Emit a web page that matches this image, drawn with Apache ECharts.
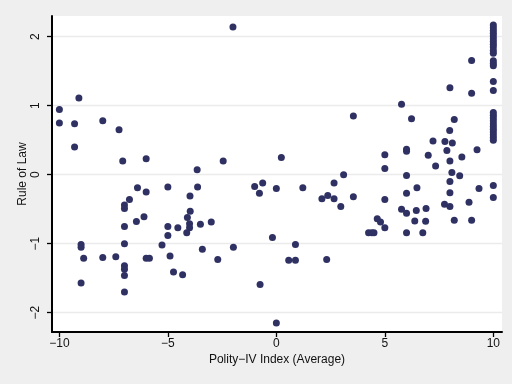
<!DOCTYPE html>
<html>
<head>
<meta charset="utf-8">
<script src="https://cdn.jsdelivr.net/npm/echarts@6/dist/echarts.min.js"></script>
<style>
html,body{margin:0;padding:0;background:#efefef;}
#c{width:512px;height:384px;}
</style>
</head>
<body>
<div id="c"></div>
<script>
const polityX = [
 -10,-10,-9.3,-9.3,-9.1,-8,-7.25,-7.08,-6.0,
 -9,-9,-8.88,-9,-8,-7.4,
 -7,-7,-7,-7,-7,-7,-7,-7,
 -6.77,-6.4,-6.45,-6.1,-6,-6,-5.85,
 -5,-5,-5,-5.27,-4.9,-4.74,-4.54,-4.32,
 -3.65,-3.63,-3.98,-3.97,-4.1,-4,-4,-4.13,
 -3.5,-3.41,-3.0,-2.7,-2.45,-2,-1.98,
 -1.0,-0.78,-0.63,-0.75,-0.18,0,0.23,0,
 0.57,0.88,0.88,1.22,
 2.1,2.37,2.66,2.32,2.66,3.1,2.97,3.55,3.55,
 4.25,4.4,4.5,4.65,4.8,
 5,5,5,5,
 5.77,5.77,6,6,6,6,6,6,
 6.23,6.48,6.45,6.38,6.75,6.9,6.88,
 7,7.22,7.34,7.77,7.86,7.75,
 8,7.99,8.11,8,8,8,8,8.09,8.2,8.2,8.45,8.55,8.88,9,9,9,9.25,9.34,
 10,10,10,10,10,10,10,10,10,10,10,10,10,10,10,10,
 10,10,10,10,10,10,10,10,10,10,10,10,10
];
const ruleY = [
 0.945,0.75,0.74,0.40,1.11,0.78,0.65,0.20,0.23,
 -1.01,-1.05,-1.21,-1.57,-1.20,-1.19,
 -0.44,-0.49,-0.75,-1.0,-1.32,-1.37,-1.46,-1.70,
 -0.36,-0.19,-0.68,-0.61,-0.25,-1.21,-1.21,
 -0.18,-0.75,-0.88,-1.02,-1.18,-1.41,-0.77,-1.45,
 0.07,-0.18,-0.31,-0.53,-0.62,-0.71,-0.77,-0.84,
 -0.72,-1.08,-0.685,-1.23,0.20,2.14,-1.05,
 -0.17,-0.27,-0.12,-1.59,-0.91,-0.20,0.25,-2.15,
 -1.24,-1.24,-1.01,-0.19,
 -0.35,-0.30,-0.35,-1.23,-0.12,0.0,-0.46,0.85,-0.32,
 -0.84,-0.84,-0.84,-0.64,-0.685,
 0.29,0.09,-0.36,-0.77,
 1.02,-0.50,0.37,0.34,-0.01,-0.27,-0.56,-0.84,
 0.81,-0.19,-0.52,-0.67,-0.84,-0.49,-0.675,
 0.28,0.49,0.125,0.48,0.35,-0.43,
 1.26,0.64,0.46,0.20,-0.10,-0.26,-0.46,0.03,0.80,-0.66,-0.015,0.255,-0.40,1.655,1.18,-0.66,0.36,-0.20,
 2.17,2.13,2.09,2.05,2.01,1.97,1.93,1.89,1.85,1.80,1.76,1.65,1.61,1.58,1.35,1.22,
 0.90,0.86,0.82,0.78,0.74,0.70,0.66,0.62,0.58,0.54,0.50,-0.155,-0.33
];
const xTicks = [-10,-5,0,5,10];
const yTicks = [-2,-1,0,1,2];

const pts = polityX.map((x,i)=>[x, ruleY[i]]);
const fmt = v => String(v).replace('-', '\u2212');
const font = 'Liberation Sans, Arial, sans-serif';

const chart = echarts.init(document.getElementById('c'), null, {renderer:'canvas'});
chart.setOption({
  backgroundColor:'#efefef',
  animation:false,
  grid:{left:52,right:10,top:16,bottom:52,show:true,backgroundColor:'#ffffff',borderWidth:0},
  xAxis:{
    type:'value', min:-10.34, max:10.4,
    name:'Polity\u2212IV Index (Average)', nameLocation:'middle', nameGap:22,
    nameMoveOverlap:false,
    nameTextStyle:{fontFamily:font,fontSize:12,color:'#111'},
    axisLine:{show:true,onZero:false,lineStyle:{color:'#000',width:2}},
    axisTick:{show:true,length:5,lineStyle:{color:'#000',width:1.3},customValues:xTicks},
    axisLabel:{fontFamily:font,fontSize:12,color:'#111',margin:6,formatter:fmt,customValues:xTicks,showMinLabel:true,showMaxLabel:true},
    splitLine:{show:false}
  },
  yAxis:{
    type:'value', min:-2.28, max:2.3,
    name:'Rule of Law', nameLocation:'middle', nameGap:23.5, nameRotate:90,
    nameMoveOverlap:false,
    nameTextStyle:{fontFamily:font,fontSize:12,color:'#111'},
    axisLine:{show:true,onZero:false,lineStyle:{color:'#000',width:2}},
    axisTick:{show:true,length:5,lineStyle:{color:'#000',width:1.3},customValues:yTicks},
    axisLabel:{fontFamily:font,fontSize:12,color:'#111',margin:10,rotate:90,formatter:fmt,customValues:yTicks},
    splitLine:{show:true,lineStyle:{color:'#ebebeb',width:1.3}}
  },
  series:[{
    type:'scatter',
    data:pts,
    symbol:'circle',
    symbolSize:7,
    itemStyle:{color:'#2f3163',opacity:1}
  }]
});
</script>
</body>
</html>
